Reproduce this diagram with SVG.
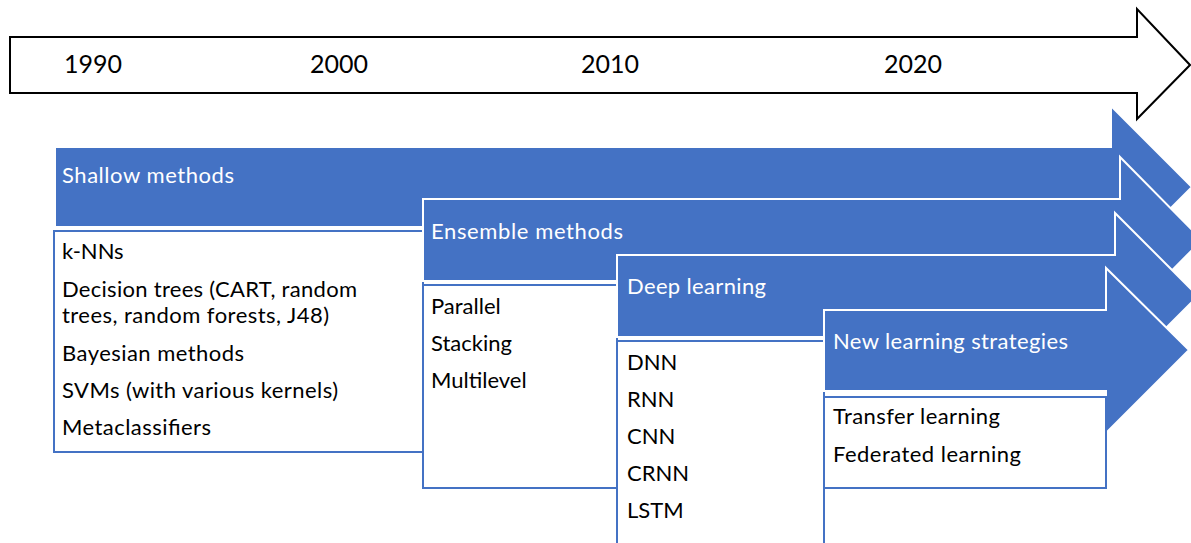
<svg xmlns="http://www.w3.org/2000/svg" width="1191" height="543" viewBox="0 0 1191 543">
<style>
.arrow{fill:#4472C4;stroke:#FFFFFF;stroke-width:2}
.box{fill:#FFFFFF;stroke:#4472C4;stroke-width:2}
.hd{font-family:Lato,"Liberation Sans",sans-serif;font-size:22px;fill:#FFFFFF}
.it{font-family:Lato,"Liberation Sans",sans-serif;font-size:22px;fill:#000000}
.yr{font-family:Lato,"Liberation Sans",sans-serif;font-size:25px;fill:#000000}
</style>
<g id="timeline">
<path d="M10,37 L1137,37 L1137,9 L1190,65 L1137,119 L1137,93 L10,93 Z" fill="#FFFFFF" stroke="#000000" stroke-width="2"/>
<text class="yr" x="64" y="73">1990</text>
<text class="yr" x="310" y="73">2000</text>
<text class="yr" x="581" y="73">2010</text>
<text class="yr" x="884" y="73">2020</text>
</g>
<g id="shallow">
<path class="arrow" d="M55,147 L1111,147 L1111,106 L1192,187 L1111,268 L1111,227 L55,227 Z"/>
<text class="hd" x="62" y="183" textLength="172" lengthAdjust="spacing">Shallow methods</text>
<rect class="box" x="54" y="231" width="369" height="221"/>
<text class="it" x="62" y="259">k-NNs</text>
<text class="it" x="62" y="297" textLength="295" lengthAdjust="spacing">Decision trees (CART, random</text>
<text class="it" x="62" y="323" textLength="267" lengthAdjust="spacing">trees, random forests, J48)</text>
<text class="it" x="62" y="361" textLength="182" lengthAdjust="spacing">Bayesian methods</text>
<text class="it" x="62" y="398" textLength="276" lengthAdjust="spacing">SVMs (with various kernels)</text>
<text class="it" x="62" y="435" textLength="149" lengthAdjust="spacing">Metaclassifiers</text>
</g>
<g id="ensemble">
<path class="arrow" d="M423,199 L1120,199 L1120,157 L1202,240 L1120,323 L1120,281 L423,281 Z"/>
<text class="hd" x="431" y="239" textLength="192" lengthAdjust="spacing">Ensemble methods</text>
<rect class="box" x="423" y="285" width="194" height="203"/>
<text class="it" x="431" y="314">Parallel</text>
<text class="it" x="431" y="351">Stacking</text>
<text class="it" x="431" y="388">Multilevel</text>
</g>
<g id="deep">
<path class="arrow" d="M617,255 L1115,255 L1115,213 L1198,296 L1115,379 L1115,337 L617,337 Z"/>
<text class="hd" x="627" y="294" textLength="139" lengthAdjust="spacing">Deep learning</text>
<rect class="box" x="617" y="341" width="207" height="215"/>
<text class="it" x="627" y="370">DNN</text>
<text class="it" x="627" y="407">RNN</text>
<text class="it" x="627" y="444">CNN</text>
<text class="it" x="627" y="481">CRNN</text>
<text class="it" x="627" y="518">LSTM</text>
</g>
<g id="newlearning">
<path class="arrow" d="M824,310 L1106,310 L1106,268 L1189,350 L1106,433 L1106,391 L824,391 Z"/>
<text class="hd" x="833" y="349" textLength="235" lengthAdjust="spacing">New learning strategies</text>
<rect class="box" x="824" y="397" width="282" height="91"/>
<text class="it" x="833" y="424" textLength="167" lengthAdjust="spacing">Transfer learning</text>
<text class="it" x="833" y="462" textLength="188" lengthAdjust="spacing">Federated learning</text>
</g>
<g id="connectors"/>
</svg>
